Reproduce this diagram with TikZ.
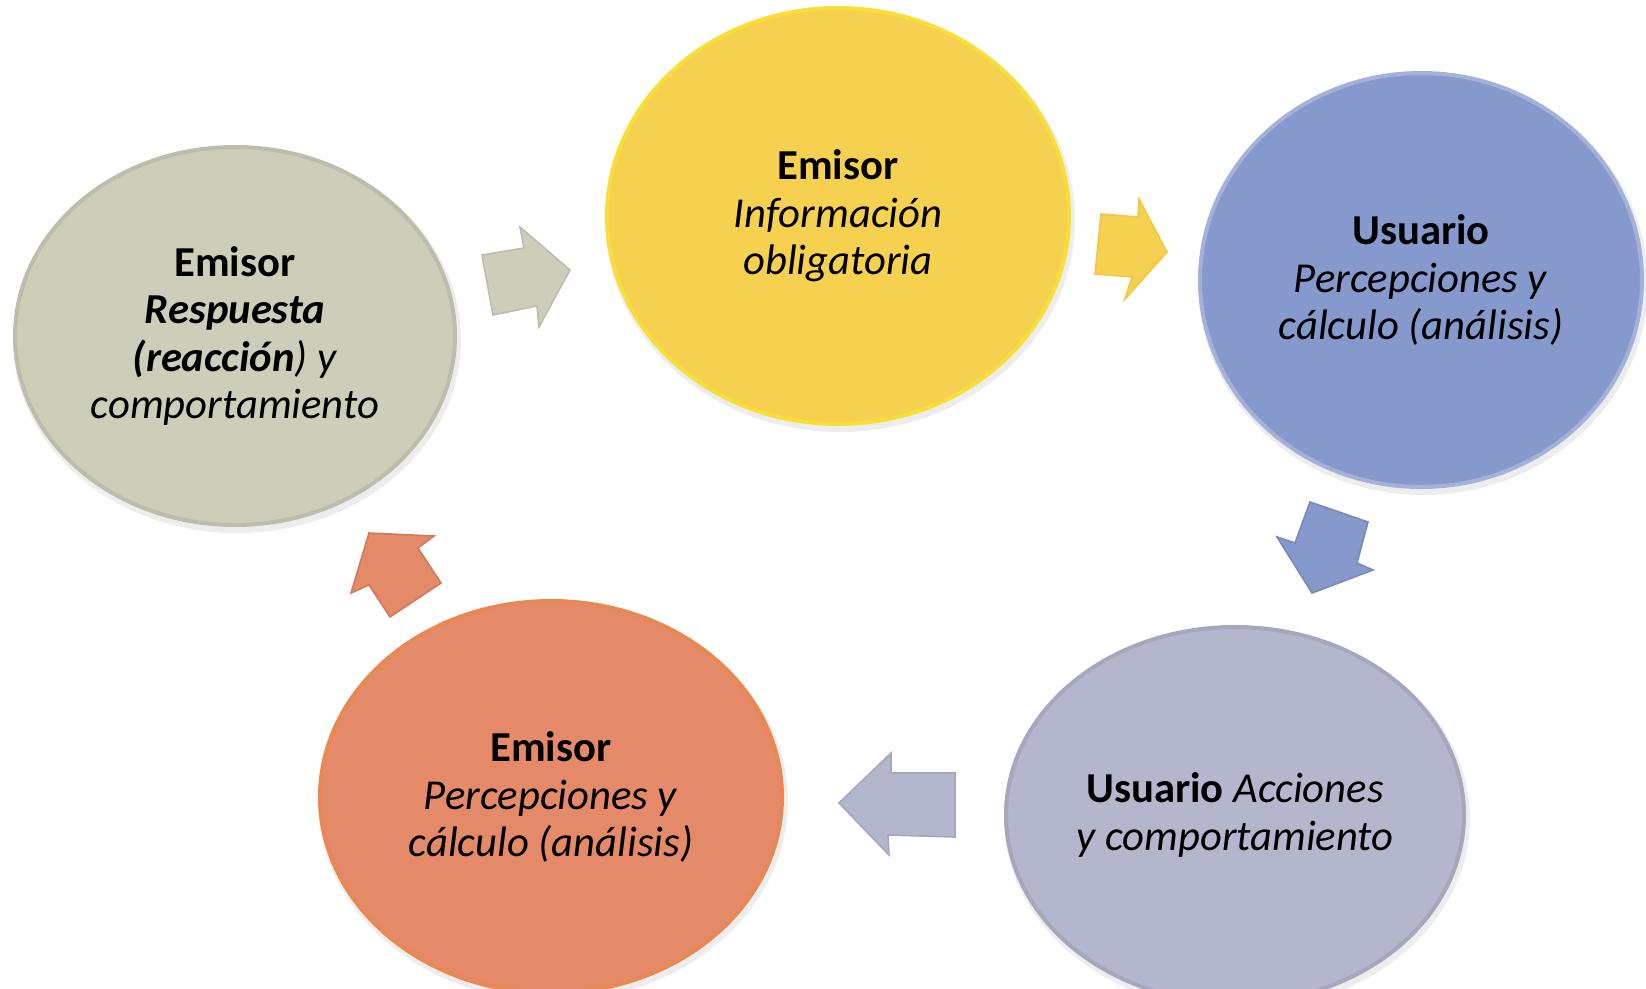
\documentclass[tikz,border=0pt]{standalone}
\usepackage{fontspec}
\setmainfont{Carlito}
\usetikzlibrary{shapes.geometric}
\definecolor{cgray}{HTML}{CDCDBA}
\definecolor{cyel}{HTML}{F5D14F}
\definecolor{cblue}{HTML}{8699CD}
\definecolor{clav}{HTML}{B4B6CD}
\definecolor{corg}{HTML}{E48A68}
\tikzset{
  bubble/.style={ellipse, inner sep=0pt, align=center, line width=3,
    font=\fontsize{32}{35.5}\selectfont},
  blockarrow/.style={line width=1.2, line join=miter},
}
\begin{document}
\begin{tikzpicture}[x=0.75pt,y=-0.75pt]
\path[use as bounding box] (0,0) rectangle (1646,989);
% shadows
\foreach \cx/\cy/\rx/\ry in {235/336/220/189, 838/216/231/208, 1421/280/221/207, 1235/815/229/188, 551/797/231/196}{
  \fill[black,opacity=0.07] (\cx+2,\cy+4) ellipse [x radius=\rx+4, y radius=\ry+4];
}
\node[bubble, fill=cgray, draw=cgray!92!black, minimum width=440*0.75pt, minimum height=378*0.75pt] (e1) at (235,336)
  {\textbf{Emisor}\\ \textbf{\textit{Respuesta}}\\ \textbf{\textit{(reacción}}\textit{) y}\\ \textit{comportamiento}};
\node[bubble, fill=cyel, draw=cyel!70!yellow, minimum width=462*0.75pt, minimum height=416*0.75pt] (e2) at (838,216)
  {\textbf{Emisor}\\ \textit{Información}\\ \textit{obligatoria}};
\node[bubble, fill=cblue, draw=cblue!75!white, minimum width=442*0.75pt, minimum height=414*0.75pt] (e3) at (1421,280)
  {\textbf{Usuario}\\ \textit{Percepciones y}\\ \textit{cálculo (análisis)}};
\node[bubble, fill=clav, draw=clav!92!black, minimum width=458*0.75pt, minimum height=376*0.75pt] (e4) at (1235,815)
  {\textbf{Usuario} \textit{Acciones}\\ \textit{y comportamiento}};
\node[bubble, fill=corg, draw=corg!80!orange, minimum width=462*0.75pt, minimum height=392*0.75pt] (e5) at (551,797)
  {\textbf{Emisor}\\ \textit{Percepciones y}\\ \textit{cálculo (análisis)}};
% block arrows
\filldraw[blockarrow, fill=cgray, draw=cgray!92!black]
  (482,255) -- (524,248) -- (520,227) -- (570,270) -- (539,327) -- (537,306) -- (493,315) -- cycle;
\filldraw[blockarrow, fill=cyel, draw=cyel!85!orange]
  (1101,214) -- (1138,217) -- (1139,199) -- (1167,252) -- (1125,299) -- (1132,277) -- (1095,274) -- cycle;
\filldraw[blockarrow, fill=cblue, draw=cblue!90!black]
  (1310,502) -- (1368,522) -- (1357,563) -- (1373,570) -- (1312,593) -- (1277,537) -- (1295,543) -- cycle;
\filldraw[blockarrow, fill=clav, draw=clav!92!black]
  (955,773) -- (955,837) -- (888,835) -- (889,855) -- (839,803) -- (891,753) -- (891,773) -- cycle;
\filldraw[blockarrow, fill=corg, draw=corg!90!black]
  (369,533) -- (434,536) -- (418,548) -- (441,583) -- (390,617) -- (369,585) -- (351,593) -- cycle;
\end{tikzpicture}
\end{document}
